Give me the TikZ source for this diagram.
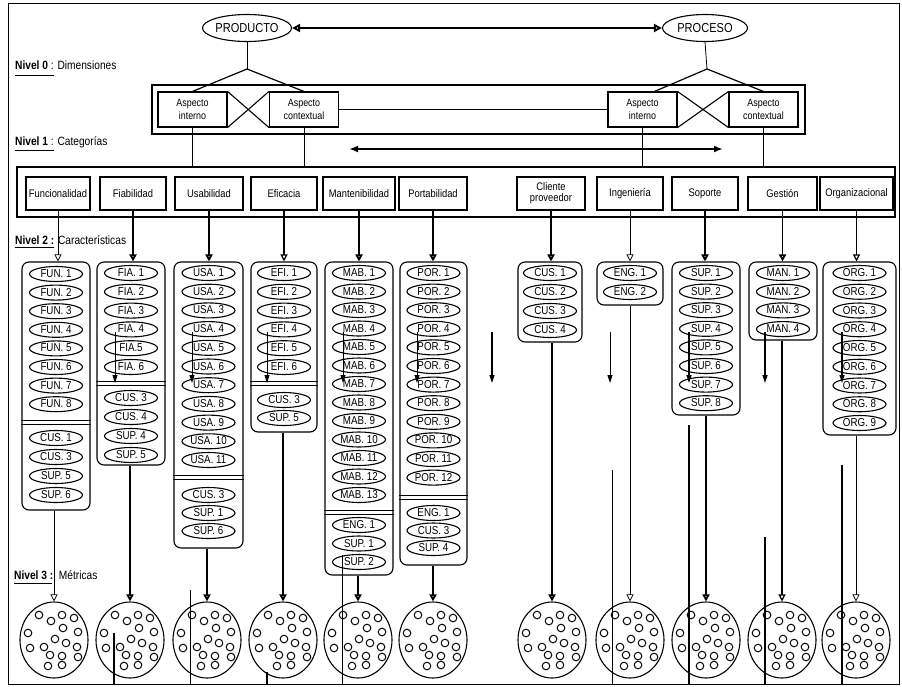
\documentclass[tikz,border=0pt]{standalone}
\usepackage{fontspec}
\setmainfont{Liberation Sans}[FakeStretch=0.85]
\usetikzlibrary{arrows.meta,shapes.geometric,calc}
\newcommand\itemcol[5]{%
  \foreach \t [count=\i] in {#5} {
    \node[itm] (#1-\i) at (#2, {#3+(\i-1)*#4}) {\t};
  }}
\newcommand\sepline[2]{%
  \draw[line width=1pt] (#1.west |- 0,{#2-2}) -- (#1.east |- 0,{#2-2});
  \draw[line width=1pt] (#1.west |- 0,{#2+2}) -- (#1.east |- 0,{#2+2});}
\newcommand\metdots[2]{%
  \foreach \dx/\dy in {-15/-25,-3/-19,8/-25,20/-22,-26/-7,9/-12,24/-8,1/-1,-24/8,-10/7,-4/15,12/3,23/7,8/16,24/17,-6/26,8/25}{
    \draw[line width=1pt] ({#1+\dx},{#2+\dy}) circle[radius=3.8pt];
  }}
\begin{document}
\begin{tikzpicture}[x=1pt,y=-1pt,
  catbox/.style={draw, line width=1.1pt, minimum height=33pt, inner sep=1pt, font=\fontsize{11}{12}\selectfont, align=center},
  asp/.style={draw, line width=1.1pt, minimum width=69pt, minimum height=35pt, inner sep=0pt, align=center, font=\fontsize{10.5}{12.5}\selectfont},
  dimell/.style={ellipse, draw, line width=1.1pt, minimum width=85pt, minimum height=27pt, inner sep=0pt, font=\fontsize{13}{13}\selectfont},
  grp/.style={draw, line width=1.1pt, rounded corners=7pt, inner sep=0pt},
  itm/.style={ellipse, draw, line width=1.1pt, minimum width=53pt, minimum height=15pt, inner sep=0pt, text height=7pt, text depth=0pt, font=\fontsize{11.5}{11.5}\selectfont},
  met/.style={ellipse, draw, line width=1.1pt, minimum width=68pt, minimum height=76pt, inner sep=0pt},
  oarrow/.style={-{Triangle[open,length=7pt,width=7pt]}},
  thinc/.style={line width=0.7pt}, midc/.style={line width=1.2pt}, thickc/.style={line width=1.8pt},
  stray/.style={line width=0.8pt, -{Triangle[length=8pt,width=5pt]}},
  lvl/.style={anchor=west, inner sep=0pt, font=\fontsize{12}{13}\selectfont}
]
\useasboundingbox (0,0) rectangle (902,686);
% outer frame
\draw[line width=1pt] (8,3) rectangle (899,684);

% Level 0
\node[dimell] (prod) at (247,28) {PRODUCTO};
\node[dimell] (proc) at (705,28) {PROCESO};
\draw[line width=1.9pt, {Triangle[open,length=8pt,width=8pt]}-{Triangle[open,length=8pt,width=8pt]}] (prod.east) -- (proc.west);

\node[lvl] (n0) at (15,65) {\textbf{Nivel 0} : Dimensiones};
\draw[line width=1pt] (15,75) -- (54,75);

\node[draw, line width=1.1pt, minimum width=653pt, minimum height=49pt, inner sep=0pt] (frame0) at (478.5,109.5) {};
\node[asp] (ai1) at (192.5,109.5) {Aspecto\\interno};
\node[asp] (ac1) at (304,109.5) {Aspecto\\contextual};
\node[asp] (ai2) at (642.5,109.5) {Aspecto\\interno};
\node[asp] (ac2) at (763.5,109.5) {Aspecto\\contextual};
\draw[line width=1.1pt] (ai1.north east) -- (ac1.south west) (ai1.south east) -- (ac1.north west);
\draw[line width=1.1pt] (ai2.north east) -- (ac2.south west) (ai2.south east) -- (ac2.north west);
\draw[line width=0.8pt] (ac1.east) -- (ai2.west);

\coordinate (p0) at (247,69);
\coordinate (q0) at (707,69);
\draw[line width=0.8pt] (prod.south) -- (p0);
\draw[line width=1.2pt] (p0) -- (ai1.north) (p0) -- (ac1.north);
\draw[line width=0.8pt] (proc.south) -- (q0);
\draw[line width=1.2pt] (q0) -- ([xshift=12pt]ai2.north) (q0) -- (ac2.north);

\node[lvl] (n1) at (15,142) {\textbf{Nivel 1} : Categorías};
\draw[line width=1pt] (15,150) -- (54,150);

\coordinate (ha) at (349,149);
\coordinate (hb) at (723,149);
\draw[line width=1.9pt, {Latex[length=9pt,width=7pt]}-{Latex[length=9pt,width=7pt]}] (ha) -- (hb);

% Category frame
\node[draw, line width=1.1pt, minimum width=878pt, minimum height=50pt, inner sep=0pt] (frame1) at (456,192) {};
\draw[line width=0.8pt] (ai1.south) -- (ai1.south |- frame1.north);
\draw[line width=0.8pt] (ac1.south) -- (ac1.south |- frame1.north);
\draw[line width=0.8pt] (ai2.south) -- (ai2.south |- frame1.north);
\draw[line width=0.8pt] (ac2.south) -- (ac2.south |- frame1.north);

\node[catbox, minimum width=64pt] (cfun) at (58,193.5) {Funcionalidad};
\node[catbox, minimum width=66pt] (cfia) at (133,193.5) {Fiabilidad};
\node[catbox, minimum width=68pt] (cusa) at (209,193.5) {Usabilidad};
\node[catbox, minimum width=66pt] (cefi) at (284,193.5) {Eficacia};
\node[catbox, minimum width=72pt] (cmab) at (359,193.5) {Mantenibilidad};
\node[catbox, minimum width=68pt] (cpor) at (433,193.5) {Portabilidad};
\node[catbox, minimum width=68pt] (ccus) at (551,193.5) {Cliente\\[-1pt]proveedor};
\node[catbox, minimum width=66pt] (ceng) at (630,193.5) {Ingeniería};
\node[catbox, minimum width=66pt] (csup) at (705,193.5) {Soporte};
\node[catbox, minimum width=69pt] (cman) at (782.5,193.5) {Gestión};
\node[catbox, minimum width=73pt] (corg) at (856.5,193.5) {Organizacional};

\node[lvl] (n2) at (15,240) {\textbf{Nivel 2 :} Características};
\draw[line width=1pt] (15,247) -- (54,247);

% Groups
\node[grp, minimum width=68pt, minimum height=248pt] (gfun) at (56,386) {};
\node[grp, minimum width=68pt, minimum height=203pt] (gfia) at (131,363.5) {};
\node[grp, minimum width=69pt, minimum height=286pt] (gusa) at (208.5,405) {};
\node[grp, minimum width=66pt, minimum height=170pt] (gefi) at (284,347) {};
\node[grp, minimum width=68pt, minimum height=313pt] (gmab) at (359,418.5) {};
\node[grp, minimum width=67pt, minimum height=303pt] (gpor) at (433.5,413.5) {};
\node[grp, minimum width=64pt, minimum height=80pt] (gcus) at (550,302) {};
\node[grp, minimum width=66pt, minimum height=43pt] (geng) at (630,283.5) {};
\node[grp, minimum width=68pt, minimum height=153pt] (gsup) at (706,338.5) {};
\node[grp, minimum width=68pt, minimum height=78pt] (gman) at (783,301) {};
\node[grp, minimum width=73pt, minimum height=173pt] (gorg) at (859.5,348.5) {};

\sepline{gfun}{422}
\sepline{gfia}{383}
\sepline{gusa}{477}
\sepline{gefi}{383}
\sepline{gmab}{512}
\sepline{gpor}{497}

\itemcol{fun}{56}{274}{18.6}{FUN. 1,FUN. 2,FUN. 3,FUN. 4,FUN. 5,FUN. 6,FUN. 7,FUN. 8}
\itemcol{funb}{56}{438}{19}{CUS. 1,CUS. 3,SUP. 5,SUP. 6}
\itemcol{fia}{131}{273}{18.8}{FIA. 1,FIA. 2,FIA. 3,FIA. 4,FIA.5,FIA. 6}
\itemcol{fiab}{131}{398}{19}{CUS. 3,CUS. 4,SUP. 4,SUP. 5}
\itemcol{usa}{208.5}{273}{18.7}{USA. 1,USA. 2,USA. 3,USA. 4,USA. 5,USA. 6,USA. 7,USA. 8,USA. 9,USA. 10,USA. 11}
\itemcol{usab}{208.5}{495}{18}{CUS. 3,SUP. 1,SUP. 6}
\itemcol{efi}{284}{273}{18.8}{EFI. 1,EFI. 2,EFI. 3,EFI. 4,EFI. 5,EFI. 6}
\itemcol{efib}{284}{400}{18}{CUS. 3,SUP. 5}
\itemcol{mab}{359}{273}{18.5}{MAB. 1,MAB. 2,MAB. 3,MAB. 4,MAB. 5,MAB. 6,MAB. 7,MAB. 8,MAB. 9,MAB. 10,MAB. 11,MAB. 12,MAB. 13}
\itemcol{mabb}{359}{525}{18.5}{ENG. 1,SUP. 1,SUP. 2}
\itemcol{por}{433.5}{273}{18.6}{POR. 1,POR. 2,POR. 3,POR. 4,POR. 5,POR. 6,POR. 7,POR. 8,POR. 9,POR. 10,POR. 11,POR. 12}
\itemcol{porb}{433.5}{513}{17.5}{ENG. 1,CUS. 3,SUP. 4}
\itemcol{cus}{550}{273}{19}{CUS. 1,CUS. 2,CUS. 3,CUS. 4}
\itemcol{eng}{630}{273}{19}{ENG. 1,ENG. 2}
\itemcol{sup}{706}{273}{18.6}{SUP. 1,SUP. 2,SUP. 3,SUP. 4,SUP. 5,SUP. 6,SUP. 7,SUP. 8}
\itemcol{man}{783}{273}{18.7}{MAN. 1,MAN. 2,MAN. 3,MAN. 4}
\itemcol{org}{859.5}{273}{18.75}{ORG. 1,ORG. 2,ORG. 3,ORG. 4,ORG. 5,ORG. 6,ORG. 7,ORG. 8,ORG. 9}

% category -> group
\draw[thinc, oarrow] (cfun.south) -- (cfun.south |- gfun.north);
\draw[thickc, oarrow] (cfia.south) -- (cfia.south |- gfia.north);
\draw[thickc, oarrow] (cusa.south) -- (cusa.south |- gusa.north);
\draw[midc, oarrow] (cefi.south) -- (cefi.south |- gefi.north);
\draw[thickc, oarrow] (cmab.south) -- (cmab.south |- gmab.north);
\draw[thickc, oarrow] (cpor.south) -- (cpor.south |- gpor.north);
\draw[thickc, oarrow] (ccus.south) -- (ccus.south |- gcus.north);
\draw[thinc, oarrow] (ceng.south) -- (ceng.south |- geng.north);
\draw[thickc, oarrow] (csup.south) -- (csup.south |- gsup.north);
\draw[thickc, oarrow] (cman.south) -- (cman.south |- gman.north);
\draw[midc, oarrow] (corg.south) -- (corg.south |- gorg.north);

% Level 3
\node[lvl] (n3) at (14,575) {\textbf{Nivel 3 :}\ \ Métricas};
\draw[line width=1pt] (14,583) -- (52,583);

\foreach \nm/\cx in {m1/54,m2/130,m3/207,m4/283,m5/358,m6/433,m7/552,m8/630,m9/706,m10/782,m11/856}{
  \node[met] (\nm) at (\cx,640) {};
  \metdots{\cx}{640}
}

\draw[thinc, oarrow] (m1.north |- gfun.south) -- (m1.north);
\draw[thickc, oarrow] (m2.north |- gfia.south) -- (m2.north);
\draw[thickc, oarrow] (m3.north |- gusa.south) -- (m3.north);
\draw[thickc, oarrow] (m4.north |- gefi.south) -- (m4.north);
\draw[thickc, oarrow] (m5.north |- gmab.south) -- (m5.north);
\draw[thickc, oarrow] (m6.north |- gpor.south) -- (m6.north);
\draw[thickc, oarrow] (m7.north |- gcus.south) -- (m7.north);
\draw[thinc, oarrow] (m8.north |- geng.south) -- (m8.north);
\draw[thickc, oarrow] (m9.north |- gsup.south) -- (m9.north);
\draw[midc, oarrow] (m10.north |- gman.south) -- (m10.north);
\draw[thinc, oarrow] (m11.north |- gorg.south) -- (m11.north);

% stray marks of the original
\foreach \sx/\w in {115/0.9,192/0.9,267/0.9,343/0.8,417/0.8,492/1.3,610/0.8,689/1.3,765/1.3,842/1.2}{
  \coordinate (sa\sx) at (\sx,332);
  \coordinate (sb\sx) at (\sx,383);
  \draw[stray, line width=\w pt] (sa\sx) -- (sb\sx);
}
\foreach \lx/\ly/\w in {114/633/1.6,190/590/0.5,267/672/1.6,342/555/0.5,612/470/0.5,689/425/1.6,765/537/1.6,842/465/1.6}{
  \coordinate (la\lx) at (\lx,\ly);
  \coordinate (lb\lx) at (\lx,684);
  \draw[line width=\w pt] (la\lx) -- (lb\lx);
}
\end{tikzpicture}
\end{document}
